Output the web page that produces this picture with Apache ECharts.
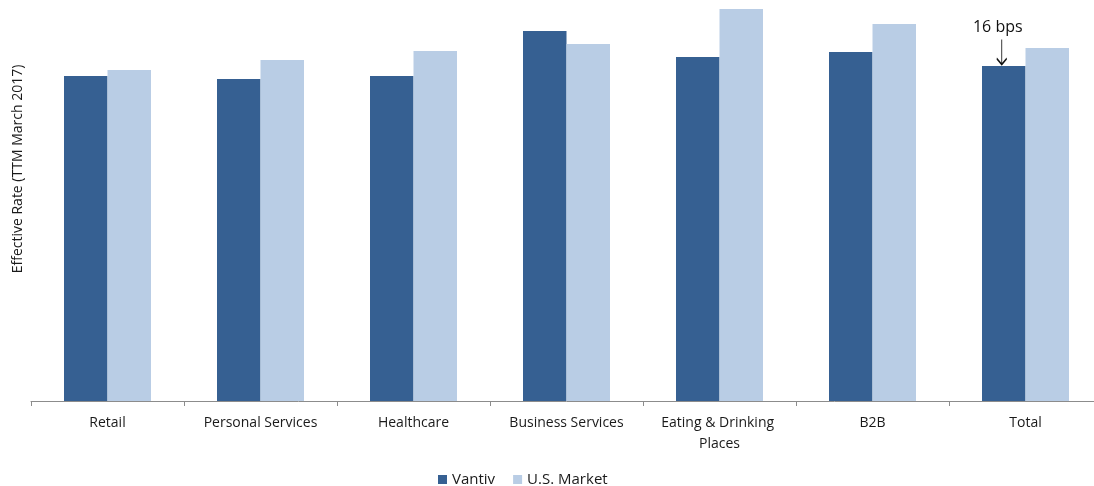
<!DOCTYPE html>
<html>
<head>
<meta charset="utf-8">
<script src="https://cdn.jsdelivr.net/npm/echarts@6/dist/echarts.min.js"></script>
<style>
	html, body { margin: 0; padding: 0; background: #fff; overflow: hidden; }
	#chart { width: 1110px; height: 486px; }
</style>
</head>
<body>
<div id="chart"></div>
<script>
// Effective rate by segment (no axis scale shown)
var categories = ['Retail', 'Personal Services', 'Healthcare', 'Business Services', 'Eating & Drinking Places', 'B2B', 'Total'];
var vantiv = [325, 322, 325, 370, 344, 349, 335];
var usMarket = [331, 341, 350, 357, 392, 377, 353];
var seriesNames = ['Vantiv', 'U.S. Market'];
var gapLabel = '16 bps';

var font = '"Open Sans", sans-serif';
var chart = echarts.init(document.getElementById('chart'));

var option = {
	animation: false,
	textStyle: { fontFamily: font },
	// the plot runs a little past the right edge of the window, like the original
	grid: { left: 31, top: 0, width: 1071, height: 401 },
	legend: {
		left: 433, top: 467,
		itemWidth: 9, itemHeight: 9, itemGap: 18,
		icon: 'rect',
		textStyle: { fontSize: 15, color: '#1a1a1a', fontFamily: font }
	},
	xAxis: {
		type: 'category',
		data: categories,
		axisLine: { lineStyle: { color: '#8c8c8c', width: 1 } },
		axisTick: { show: true, length: 5, lineStyle: { color: '#8c8c8c' } },
		axisLabel: {
			interval: 0, margin: 12, fontSize: 14, color: '#1a1a1a',
			width: 140, overflow: 'break', lineHeight: 21
		}
	},
	yAxis: {
		type: 'value', min: 0, max: 401,
		show: false, splitLine: { show: false }
	},
	graphic: [{
		type: 'text',
		x: 18, y: 169,
		rotation: Math.PI / 2,
		style: {
			text: 'Effective Rate (TTM March 2017)',
			fontSize: 14, fill: '#1a1a1a', fontFamily: font,
			align: 'center', verticalAlign: 'middle'
		}
	}],
	series: [{
		name: seriesNames[0],
		type: 'bar',
		data: vantiv,
		barWidth: 43.5,
		barGap: '0%',
		itemStyle: { color: '#366092' },
		markPoint: {
			symbol: 'path://M5 0 L5 25 M0 19 L5 25 L10 19',
			symbolSize: [10, 25],
			symbolOffset: [-2, 0],
			itemStyle: { color: 'none', borderColor: '#111', borderWidth: 1.3 },
			label: {
				show: true, position: 'top', distance: 1, offset: [-4, 1],
				formatter: gapLabel, fontSize: 16, color: '#111', fontFamily: font
			},
			data: [{ coord: [categories.length - 1, vantiv[6] + 14] }]
		}
	}, {
		name: seriesNames[1],
		type: 'bar',
		data: usMarket,
		barWidth: 43.5,
		itemStyle: { color: '#b9cde5' }
	}]
};

chart.setOption(option);
</script>
</body>
</html>
